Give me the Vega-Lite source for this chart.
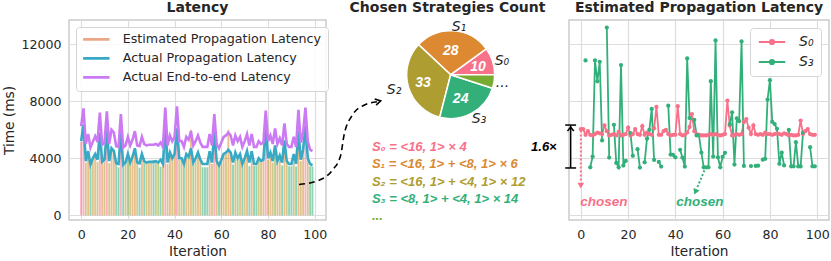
{
  "$schema": "https://vega.github.io/schema/vega-lite/v6.json",
  "padding": {"left": 2, "top": 0, "right": 0, "bottom": 0},
  "bounds": "flush",
  "spacing": 0,
  "resolve": {"scale": {"color": "independent", "fill": "independent", "stroke": "independent"}, "legend": {"color": "independent", "fill": "independent", "stroke": "independent"}},
  "config": {
    "font": "DejaVu Sans",
    "view": {"stroke": "#cccccc", "strokeWidth": 1.5},
    "axis": {"grid": true, "gridColor": "#dddddd", "gridWidth": 1.2, "domain": false, "ticks": false, "labelFontSize": 12.6, "labelColor": "#262626", "titleFontSize": 13.7, "titleFontWeight": "normal", "titleColor": "#262626", "labelPadding": 8, "titlePadding": 4, "labelOverlap": false, "format": "d"},
    "title": {"fontSize": 14, "fontWeight": "bold", "color": "#262626", "offset": 5}
  },
  "datasets": {
    "lat": [
      {"it":0,"strat":"S0","est":5150,"prop":5200,"e2e":6250},
      {"it":1,"strat":"S0","est":5600,"prop":6350,"e2e":7500},
      {"it":2,"strat":"S2","est":3700,"prop":3800,"e2e":5000},
      {"it":3,"strat":"S1","est":4300,"prop":4500,"e2e":5700},
      {"it":4,"strat":"S3","est":3370,"prop":3550,"e2e":4750},
      {"it":5,"strat":"S2","est":3850,"prop":4000,"e2e":5150},
      {"it":6,"strat":"S1","est":4100,"prop":4300,"e2e":5550},
      {"it":7,"strat":"S2","est":3750,"prop":3900,"e2e":5150},
      {"it":8,"strat":"S0","est":5500,"prop":5800,"e2e":7200},
      {"it":9,"strat":"S1","est":3650,"prop":3750,"e2e":4950},
      {"it":10,"strat":"S2","est":3800,"prop":3900,"e2e":5100},
      {"it":11,"strat":"S0","est":5600,"prop":6000,"e2e":7300},
      {"it":12,"strat":"S2","est":3650,"prop":3800,"e2e":5000},
      {"it":13,"strat":"S1","est":4400,"prop":4700,"e2e":6000},
      {"it":14,"strat":"S1","est":4300,"prop":4500,"e2e":5800},
      {"it":15,"strat":"S3","est":3670,"prop":3650,"e2e":4850},
      {"it":16,"strat":"S3","est":3370,"prop":3600,"e2e":4800},
      {"it":17,"strat":"S0","est":5600,"prop":5800,"e2e":7100},
      {"it":18,"strat":"S3","est":3490,"prop":3550,"e2e":4750},
      {"it":19,"strat":"S2","est":3600,"prop":3700,"e2e":4900},
      {"it":20,"strat":"other","est":4100,"prop":4300,"e2e":5500},
      {"it":21,"strat":"S2","est":3600,"prop":3700,"e2e":4900},
      {"it":22,"strat":"S1","est":3950,"prop":4100,"e2e":5300},
      {"it":23,"strat":"S1","est":4500,"prop":4700,"e2e":5900},
      {"it":24,"strat":"S2","est":3600,"prop":3700,"e2e":4900},
      {"it":25,"strat":"S3","est":3345,"prop":3650,"e2e":4850},
      {"it":26,"strat":"S1","est":4200,"prop":4300,"e2e":5500},
      {"it":27,"strat":"S3","est":3720,"prop":3800,"e2e":5000},
      {"it":28,"strat":"S2","est":3650,"prop":3700,"e2e":4900},
      {"it":29,"strat":"S2","est":3650,"prop":3750,"e2e":4950},
      {"it":30,"strat":"S1","est":3700,"prop":3750,"e2e":4950},
      {"it":31,"strat":"S3","est":3885,"prop":3750,"e2e":4950},
      {"it":32,"strat":"S2","est":3700,"prop":3800,"e2e":5000},
      {"it":33,"strat":"other","est":3650,"prop":3700,"e2e":4900},
      {"it":34,"strat":"S3","est":3415,"prop":3900,"e2e":5100},
      {"it":35,"strat":"S2","est":3500,"prop":3600,"e2e":4800},
      {"it":36,"strat":"S0","est":5900,"prop":6300,"e2e":7550},
      {"it":37,"strat":"S2","est":3600,"prop":3700,"e2e":4900},
      {"it":38,"strat":"S1","est":4200,"prop":4400,"e2e":5600},
      {"it":39,"strat":"S2","est":3900,"prop":4000,"e2e":5200},
      {"it":40,"strat":"S1","est":4200,"prop":4300,"e2e":5500},
      {"it":41,"strat":"S0","est":5800,"prop":6100,"e2e":7650},
      {"it":42,"strat":"S2","est":3900,"prop":4000,"e2e":5200},
      {"it":43,"strat":"S2","est":3900,"prop":4000,"e2e":5200},
      {"it":44,"strat":"S3","est":3415,"prop":3600,"e2e":4800},
      {"it":45,"strat":"S1","est":4200,"prop":4300,"e2e":5500},
      {"it":46,"strat":"S2","est":4000,"prop":4100,"e2e":5300},
      {"it":47,"strat":"S1","est":6000,"prop":4700,"e2e":5900},
      {"it":48,"strat":"other","est":3600,"prop":3700,"e2e":4900},
      {"it":49,"strat":"S2","est":3900,"prop":4000,"e2e":5200},
      {"it":50,"strat":"S1","est":4300,"prop":4400,"e2e":5600},
      {"it":51,"strat":"S2","est":3800,"prop":3900,"e2e":5100},
      {"it":52,"strat":"S3","est":3370,"prop":3600,"e2e":4800},
      {"it":53,"strat":"S3","est":3370,"prop":3600,"e2e":4800},
      {"it":54,"strat":"S3","est":3370,"prop":3600,"e2e":4800},
      {"it":55,"strat":"S1","est":4400,"prop":4500,"e2e":5700},
      {"it":56,"strat":"S2","est":3600,"prop":3700,"e2e":4900},
      {"it":57,"strat":"S0","est":5700,"prop":5850,"e2e":7100},
      {"it":58,"strat":"S1","est":3700,"prop":3800,"e2e":5000},
      {"it":59,"strat":"S3","est":3370,"prop":3500,"e2e":4700},
      {"it":60,"strat":"S2","est":3800,"prop":3900,"e2e":5100},
      {"it":61,"strat":"S1","est":4200,"prop":4300,"e2e":5500},
      {"it":62,"strat":"S2","est":4300,"prop":4400,"e2e":5600},
      {"it":63,"strat":"S1","est":6000,"prop":4600,"e2e":5800},
      {"it":64,"strat":"S1","est":4300,"prop":4400,"e2e":5600},
      {"it":65,"strat":"S3","est":3560,"prop":3700,"e2e":4900},
      {"it":66,"strat":"S2","est":4300,"prop":4400,"e2e":5600},
      {"it":67,"strat":"other","est":3900,"prop":4000,"e2e":5200},
      {"it":68,"strat":"S1","est":4200,"prop":4300,"e2e":5500},
      {"it":69,"strat":"S3","est":3460,"prop":3600,"e2e":4800},
      {"it":70,"strat":"S2","est":3900,"prop":4000,"e2e":5200},
      {"it":71,"strat":"S1","est":4400,"prop":4500,"e2e":5700},
      {"it":72,"strat":"S3","est":3450,"prop":3700,"e2e":4900},
      {"it":73,"strat":"S1","est":4400,"prop":4500,"e2e":5700},
      {"it":74,"strat":"S3","est":3460,"prop":3600,"e2e":4800},
      {"it":75,"strat":"S3","est":3480,"prop":3600,"e2e":4800},
      {"it":76,"strat":"S2","est":3900,"prop":4000,"e2e":5200},
      {"it":77,"strat":"S2","est":3700,"prop":3800,"e2e":5000},
      {"it":78,"strat":"S1","est":3800,"prop":3900,"e2e":5100},
      {"it":79,"strat":"S0","est":5700,"prop":6200,"e2e":7350},
      {"it":80,"strat":"S2","est":3900,"prop":4000,"e2e":5200},
      {"it":81,"strat":"S1","est":4300,"prop":4400,"e2e":5600},
      {"it":82,"strat":"S2","est":3700,"prop":3800,"e2e":5000},
      {"it":83,"strat":"other","est":4700,"prop":4900,"e2e":6100},
      {"it":84,"strat":"S1","est":3700,"prop":3800,"e2e":5000},
      {"it":85,"strat":"S2","est":4100,"prop":4200,"e2e":5400},
      {"it":86,"strat":"S3","est":3500,"prop":3700,"e2e":4900},
      {"it":87,"strat":"S1","est":4800,"prop":5260,"e2e":6450},
      {"it":88,"strat":"S2","est":3700,"prop":3800,"e2e":5000},
      {"it":89,"strat":"S3","est":3440,"prop":3600,"e2e":4800},
      {"it":90,"strat":"S3","est":3440,"prop":3600,"e2e":4800},
      {"it":91,"strat":"S2","est":4200,"prop":4300,"e2e":5500},
      {"it":92,"strat":"S3","est":3430,"prop":3600,"e2e":4800},
      {"it":93,"strat":"S1","est":5500,"prop":5900,"e2e":7400},
      {"it":94,"strat":"S2","est":3800,"prop":3900,"e2e":5100},
      {"it":95,"strat":"S1","est":4500,"prop":4600,"e2e":5800},
      {"it":96,"strat":"S0","est":5900,"prop":6300,"e2e":7550},
      {"it":97,"strat":"S2","est":3900,"prop":4000,"e2e":5200},
      {"it":98,"strat":"S3","est":3440,"prop":3600,"e2e":4600},
      {"it":99,"strat":"S3","est":3440,"prop":3500,"e2e":4500}
    ],
    "est": [
      {"it":0,"S0":6050,"S3":null},{"it":1,"S0":6050,"S3":null},{"it":2,"S0":5650,"S3":10860},{"it":3,"S0":5900,"S3":null},
      {"it":4,"S0":5650,"S3":3370},{"it":5,"S0":5600,"S3":4120},{"it":6,"S0":5700,"S3":10860},{"it":7,"S0":5800,"S3":9400},
      {"it":8,"S0":5750,"S3":10770},{"it":9,"S0":5700,"S3":5250},{"it":10,"S0":6300,"S3":null},{"it":11,"S0":5900,"S3":13170},
      {"it":12,"S0":5600,"S3":4050},{"it":13,"S0":5650,"S3":null},{"it":14,"S0":5700,"S3":6350},{"it":15,"S0":5600,"S3":3670},
      {"it":16,"S0":5850,"S3":3370},{"it":17,"S0":5600,"S3":10540},{"it":18,"S0":5650,"S3":3490},{"it":19,"S0":5700,"S3":3815},
      {"it":20,"S0":6150,"S3":null},{"it":21,"S0":5600,"S3":5765},{"it":22,"S0":5700,"S3":4170},{"it":23,"S0":6050,"S3":null},
      {"it":24,"S0":5700,"S3":4640},{"it":25,"S0":5650,"S3":3345},{"it":26,"S0":6250,"S3":null},{"it":27,"S0":5650,"S3":3720},
      {"it":28,"S0":5800,"S3":5370},{"it":29,"S0":5700,"S3":6000},{"it":30,"S0":5650,"S3":7460},{"it":31,"S0":6100,"S3":3885},
      {"it":32,"S0":7600,"S3":null},{"it":33,"S0":5650,"S3":3740},{"it":34,"S0":5650,"S3":3415},{"it":35,"S0":5900,"S3":null},
      {"it":36,"S0":6000,"S3":null},{"it":37,"S0":5700,"S3":7690},{"it":38,"S0":5600,"S3":4260},{"it":39,"S0":5650,"S3":4240},
      {"it":40,"S0":5650,"S3":4070},{"it":41,"S0":7650,"S3":null},{"it":42,"S0":5700,"S3":4590},{"it":43,"S0":5600,"S3":4050},
      {"it":44,"S0":5650,"S3":3415},{"it":45,"S0":5800,"S3":11000},{"it":46,"S0":6200,"S3":6820},{"it":47,"S0":7100,"S3":null},
      {"it":48,"S0":5900,"S3":6700},{"it":49,"S0":5700,"S3":5600},{"it":50,"S0":5650,"S3":5600},{"it":51,"S0":5600,"S3":4400},
      {"it":52,"S0":5600,"S3":3370},{"it":53,"S0":5600,"S3":3370},{"it":54,"S0":5650,"S3":3370},{"it":55,"S0":5700,"S3":9410},
      {"it":56,"S0":5650,"S3":4120},{"it":57,"S0":5700,"S3":12270},{"it":58,"S0":5650,"S3":4070},{"it":59,"S0":5600,"S3":3370},
      {"it":60,"S0":5650,"S3":4100},{"it":61,"S0":5700,"S3":4380},{"it":62,"S0":8050,"S3":null},{"it":63,"S0":6300,"S3":6400},
      {"it":64,"S0":5600,"S3":7220},{"it":65,"S0":5650,"S3":3560},{"it":66,"S0":5700,"S3":6800},{"it":67,"S0":5650,"S3":6600},
      {"it":68,"S0":5700,"S3":12200},{"it":69,"S0":6550,"S3":3460},{"it":70,"S0":6750,"S3":null},{"it":71,"S0":6150,"S3":null},
      {"it":72,"S0":5700,"S3":3450},{"it":73,"S0":6300,"S3":null},{"it":74,"S0":5700,"S3":3460},{"it":75,"S0":5650,"S3":3480},
      {"it":76,"S0":5700,"S3":null},{"it":77,"S0":5650,"S3":3900},{"it":78,"S0":5800,"S3":3960},{"it":79,"S0":5700,"S3":8120},
      {"it":80,"S0":5700,"S3":9480},{"it":81,"S0":5650,"S3":6560},{"it":82,"S0":5700,"S3":6400},{"it":83,"S0":5750,"S3":6070},
      {"it":84,"S0":5700,"S3":3610},{"it":85,"S0":5650,"S3":4390},{"it":86,"S0":5750,"S3":3500},{"it":87,"S0":5700,"S3":null},
      {"it":88,"S0":5600,"S3":5990},{"it":89,"S0":5650,"S3":3440},{"it":90,"S0":5600,"S3":3440},{"it":91,"S0":5600,"S3":5130},
      {"it":92,"S0":5650,"S3":3430},{"it":93,"S0":6650,"S3":3430},{"it":94,"S0":5700,"S3":5800},{"it":95,"S0":5900,"S3":null},
      {"it":96,"S0":6050,"S3":null},{"it":97,"S0":5700,"S3":4780},{"it":98,"S0":5650,"S3":3440},{"it":99,"S0":5650,"S3":3440}
    ]
  },
  "hconcat": [
    {
      "width": 257,
      "height": 200,
      "title": "Latency",
      "data": {"name": "lat"},
      "layer": [
        {
          "mark": {"type": "bar", "width": 1.9, "opacity": 0.55},
          "encoding": {
            "x": {"field": "it", "type": "quantitative", "scale": {"domain": [-5.2, 104.8], "nice": false, "zero": false, "padding": 0}, "axis": {"values": [0, 20, 40, 60, 80, 100], "title": "Iteration"}},
            "y": {"field": "est", "type": "quantitative", "scale": {"domain": [-330, 13700], "nice": false, "zero": false, "padding": 0}, "axis": {"values": [0, 2000, 4000, 6000, 8000, 10000, 12000], "title": "Time (ms)"}},
            "fill": {"field": "strat", "type": "nominal", "scale": {"domain": ["S0", "S1", "S2", "S3", "other"], "range": ["#f77189", "#dc8932", "#ae9d31", "#33b07a", "#77ab31"]}, "legend": null}
          }
        },
        {
          "mark": {"type": "line", "strokeWidth": 2.6},
          "encoding": {
            "x": {"field": "it", "type": "quantitative"},
            "y": {"field": "prop", "type": "quantitative"},
            "stroke": {
              "datum": "Actual Propagation Latency",
              "type": "nominal",
              "scale": {"domain": ["Estimated Propagation Latency", "Actual Propagation Latency", "Actual End-to-end Latency"], "range": ["#eba684", "#38a9c5", "#cc7af4"]},
              "legend": {
                "title": null,
                "orient": "top-left",
                "offset": 7,
                "padding": 6,
                "rowPadding": 5,
                "symbolSize": 64,
                "symbolStrokeWidth": 2.6,
                "symbolOffset": 8,
                "labelOffset": 20,
                "labelFontSize": 12.7,
                "labelLimit": 0,
                "labelColor": "#262626",
                "fillColor": "rgba(255,255,255,0.85)",
                "strokeColor": "#d5d5d5",
                "cornerRadius": 3,
                "encode": {
                  "symbols": {
                    "update": {
                      "shape": {"value": "M-3.3,0H3.3"},
                      "strokeWidth": {"condition": {"test": "datum.index === 0 || datum.label === 'Estimated Propagation Latency'", "value": 7}, "value": 2.6},
                      "strokeDash": {"condition": {"test": "datum.index === 0 || datum.label === 'Estimated Propagation Latency'", "value": [3.6, 1.6]}, "value": [1, 0]}
                    }
                  }
                }
              }
            }
          }
        },
        {
          "mark": {"type": "line", "strokeWidth": 2.6},
          "encoding": {
            "x": {"field": "it", "type": "quantitative"},
            "y": {"field": "e2e", "type": "quantitative"},
            "stroke": {"datum": "Actual End-to-end Latency", "type": "nominal"}
          }
        }
      ]
    },
    {
      "width": 243,
      "height": 200,
      "title": "Chosen Strategies Count",
      "view": {"stroke": null},
      "layer": [
        {
          "data": {"values": [
            {"s": "S0", "n": 10, "o": 0}, {"s": "S1", "n": 28, "o": 1}, {"s": "S2", "n": 33, "o": 2}, {"s": "S3", "n": 24, "o": 3}, {"s": "other", "n": 5, "o": 4}
          ]},
          "mark": {"type": "arc", "outerRadius": 44, "stroke": "white", "strokeWidth": 1.5},
          "encoding": {
            "theta": {"field": "n", "type": "quantitative", "stack": true, "scale": {"range": [1.5708, -4.7124]}},
            "order": {"field": "o", "type": "quantitative"},
            "fill": {"field": "s", "type": "nominal", "scale": {"domain": ["S0", "S1", "S2", "S3", "other"], "range": ["#f77189", "#dc8932", "#ae9d31", "#33b07a", "#77ab31"]}, "legend": null},
            "x": {"datum": 51.3, "type": "quantitative", "scale": {"domain": [0, 100], "nice": false, "zero": false}, "axis": null},
            "y": {"datum": 72.65, "type": "quantitative", "scale": {"domain": [0, 100], "nice": false, "zero": false}, "axis": null}
          }
        },
        {
          "data": {"values": [
            {"t": "10", "ax": 62.6, "ay": 76.5}, {"t": "28", "ax": 51.3, "ay": 84.5}, {"t": "33", "ax": 39.9, "ay": 68.5}, {"t": "24", "ax": 55.4, "ay": 60.5}
          ]},
          "mark": {"type": "text", "font": "Liberation Sans", "fontWeight": "bold", "fontStyle": "italic", "fontSize": 14, "color": "white"},
          "encoding": {
            "x": {"field": "ax", "type": "quantitative", "axis": null},
            "y": {"field": "ay", "type": "quantitative", "axis": null},
            "text": {"field": "t"}
          }
        },
        {
          "data": {"values": [
            {"t": "S₁", "ax": 54.7, "ay": 96.5}, {"t": "S₀", "ax": 72.4, "ay": 79.5}, {"t": "...", "ax": 72.6, "ay": 68.3}, {"t": "S₂", "ax": 28.0, "ay": 65}, {"t": "S₃", "ax": 63, "ay": 50.5}
          ]},
          "mark": {"type": "text", "fontStyle": "italic", "fontSize": 14, "color": "#262626"},
          "encoding": {
            "x": {"field": "ax", "type": "quantitative", "axis": null},
            "y": {"field": "ay", "type": "quantitative", "axis": null},
            "text": {"field": "t"}
          }
        },
        {
          "data": {"values": [
            {"t": "S₀ = <16, 1>  × 4", "s": "S0", "ax": 18.9, "ay": 36.5},
            {"t": "S₁ = <16, 1> + <8, 1>  × 6", "s": "S1", "ax": 18.9, "ay": 27.8},
            {"t": "S₂ = <16, 1> + <4, 1>  × 12", "s": "S2", "ax": 18.9, "ay": 19.1},
            {"t": "S₃ = <8, 1> + <4, 1>  × 14", "s": "S3", "ax": 18.9, "ay": 10.4},
            {"t": "...", "s": "other", "ax": 18.9, "ay": 2}
          ]},
          "mark": {"type": "text", "font": "Liberation Sans", "fontWeight": "bold", "fontStyle": "italic", "fontSize": 13, "align": "left"},
          "encoding": {
            "x": {"field": "ax", "type": "quantitative", "axis": null},
            "y": {"field": "ay", "type": "quantitative", "axis": null},
            "text": {"field": "t"},
            "fill": {"field": "s", "type": "nominal", "legend": null}
          }
        },
        {
          "data": {"values": [
            {"ax": -11.1, "ay": 17.75, "o": 0}, {"ax": -2.88, "ay": 19.85, "o": 1}, {"ax": 2.59, "ay": 24.85, "o": 2}, {"ax": 6.05, "ay": 32.35, "o": 3},
            {"ax": 7.41, "ay": 42.35, "o": 4}, {"ax": 10.82, "ay": 52.35, "o": 5}, {"ax": 15.64, "ay": 57.35, "o": 6}, {"ax": 21.5, "ay": 59.2, "o": 7}
          ]},
          "mark": {"type": "line", "color": "black", "strokeWidth": 1.6, "strokeDash": [6, 4], "interpolate": "monotone"},
          "encoding": {
            "x": {"field": "ax", "type": "quantitative", "axis": null},
            "y": {"field": "ay", "type": "quantitative", "axis": null},
            "order": {"field": "o", "type": "quantitative"}
          }
        },
        {
          "data": {"values": [{"ax": 21.6, "ay": 59.3}]},
          "mark": {"type": "point", "shape": "M-1,-1L0.7,0L-1,1", "filled": false, "stroke": "black", "strokeWidth": 1.6, "size": 40, "angle": -13, "opacity": 1},
          "encoding": {
            "x": {"field": "ax", "type": "quantitative", "axis": null},
            "y": {"field": "ay", "type": "quantitative", "axis": null}
          }
        }
      ]
    },
    {
      "width": 260,
      "height": 200,
      "title": "Estimated Propagation Latency",
      "layer": [
        {
          "data": {"name": "est"},
          "transform": [{"fold": ["S0", "S3"], "as": ["series", "v"]}],
          "mark": {"type": "line", "strokeWidth": 1.8, "point": {"filled": true, "size": 18}},
          "encoding": {
            "x": {"field": "it", "type": "quantitative", "scale": {"domain": [-5, 105], "nice": false, "zero": false}, "axis": {"values": [0, 20, 40, 60, 80, 100], "title": "Iteration"}},
            "y": {"field": "v", "type": "quantitative", "scale": {"domain": [-330, 13700], "nice": false, "zero": false}, "axis": {"values": [0, 2000, 4000, 6000, 8000, 10000, 12000], "labels": false, "title": null}},
            "color": {
              "field": "series", "type": "nominal",
              "scale": {"domain": ["S0", "S3"], "range": ["#f77189", "#33b07a"]},
              "legend": {
                "title": null,
                "orient": "top-right",
                "offset": 8,
                "padding": 7,
                "rowPadding": 6,
                "symbolSize": 64,
                "symbolStrokeWidth": 1.8,
                "symbolOffset": 8,
                "labelOffset": 20,
                "labelFontSize": 14,
                "labelFontStyle": "italic",
                "labelColor": "#262626",
                "labelExpr": "datum.label == 'S0' ? 'S₀' : 'S₃'",
                "fillColor": "rgba(255,255,255,0.85)",
                "strokeColor": "#d5d5d5",
                "cornerRadius": 3,
                "encode": {
                  "symbols": {
                    "update": {
                      "shape": {"value": "M-3.3,0H3.3M0.55,0A0.55,0.55,0,1,1,-0.55,0A0.55,0.55,0,1,1,0.55,0"},
                      "fill": {"condition": {"test": "datum.value === 'S0'", "value": "#f77189"}, "value": "#33b07a"},
                      "stroke": {"condition": {"test": "datum.value === 'S0'", "value": "#f77189"}, "value": "#33b07a"}
                    }
                  }
                }
              }
            }
          }
        },
        {
          "data": {"values": [{"it": -4.3, "v": 3320, "v2": 6330}]},
          "mark": {"type": "rule", "color": "black", "strokeWidth": 1.5},
          "encoding": {
            "x": {"field": "it", "type": "quantitative"},
            "y": {"field": "v", "type": "quantitative"},
            "y2": {"field": "v2"}
          }
        },
        {
          "data": {"values": [{"it": -6.6, "it2": -2.0, "v": 3320}, {"it": -6.6, "it2": -2.0, "v": 6330}]},
          "mark": {"type": "rule", "color": "black", "strokeWidth": 1.5},
          "encoding": {
            "x": {"field": "it", "type": "quantitative"},
            "x2": {"field": "it2"},
            "y": {"field": "v", "type": "quantitative"}
          }
        },
        {
          "data": {"values": [{"it": -4.3, "v": 6050}]},
          "mark": {"type": "point", "shape": "M-1,0.6L0,-0.6L1,0.6", "filled": false, "stroke": "black", "strokeWidth": 1.5, "size": 40, "opacity": 1},
          "encoding": {
            "x": {"field": "it", "type": "quantitative"},
            "y": {"field": "v", "type": "quantitative"}
          }
        },
        {
          "data": {"values": [{"it": -10.2, "v": 4800, "t": "1.6×"}]},
          "mark": {"type": "text", "font": "Liberation Sans", "fontWeight": "bold", "fontStyle": "italic", "fontSize": 13, "align": "right", "color": "black"},
          "encoding": {
            "x": {"field": "it", "type": "quantitative"},
            "y": {"field": "v", "type": "quantitative"},
            "text": {"field": "t"}
          }
        },
        {
          "data": {"values": [{"it": 0, "v": 5950, "it2": 0, "v2": 2350, "c": "S0"}, {"it": 52.3, "v": 3150, "it2": 49.0, "v2": 1850, "c": "S3"}]},
          "mark": {"type": "rule", "strokeWidth": 2, "strokeDash": [2, 2]},
          "encoding": {
            "x": {"field": "it", "type": "quantitative"},
            "x2": {"field": "it2"},
            "y": {"field": "v", "type": "quantitative"},
            "y2": {"field": "v2"},
            "color": {"field": "c", "type": "nominal", "legend": null}
          }
        },
        {
          "data": {"values": [{"it": 0, "v": 2080, "c": "S0", "a": 0}, {"it": 48.5, "v": 1640, "c": "S3", "a": 22}]},
          "mark": {"type": "point", "shape": "triangle-down", "filled": true, "size": 45, "opacity": 1},
          "encoding": {
            "x": {"field": "it", "type": "quantitative"},
            "y": {"field": "v", "type": "quantitative"},
            "angle": {"field": "a", "type": "quantitative", "scale": null},
            "color": {"field": "c", "type": "nominal", "legend": null}
          }
        },
        {
          "data": {"values": [{"it": -0.2, "v": 930, "c": "S0", "t": "chosen"}]},
          "mark": {"type": "text", "font": "Liberation Sans", "fontWeight": "bold", "fontStyle": "italic", "fontSize": 13.5, "align": "left"},
          "encoding": {
            "x": {"field": "it", "type": "quantitative"},
            "y": {"field": "v", "type": "quantitative"},
            "text": {"field": "t"},
            "color": {"field": "c", "type": "nominal", "legend": null}
          }
        },
        {
          "data": {"values": [{"it": 50.4, "v": 930, "c": "S3", "t": "chosen"}]},
          "mark": {"type": "text", "font": "Liberation Sans", "fontWeight": "bold", "fontStyle": "italic", "fontSize": 13.5, "align": "center"},
          "encoding": {
            "x": {"field": "it", "type": "quantitative"},
            "y": {"field": "v", "type": "quantitative"},
            "text": {"field": "t"},
            "color": {"field": "c", "type": "nominal", "legend": null}
          }
        }
      ]
    }
  ]
}
